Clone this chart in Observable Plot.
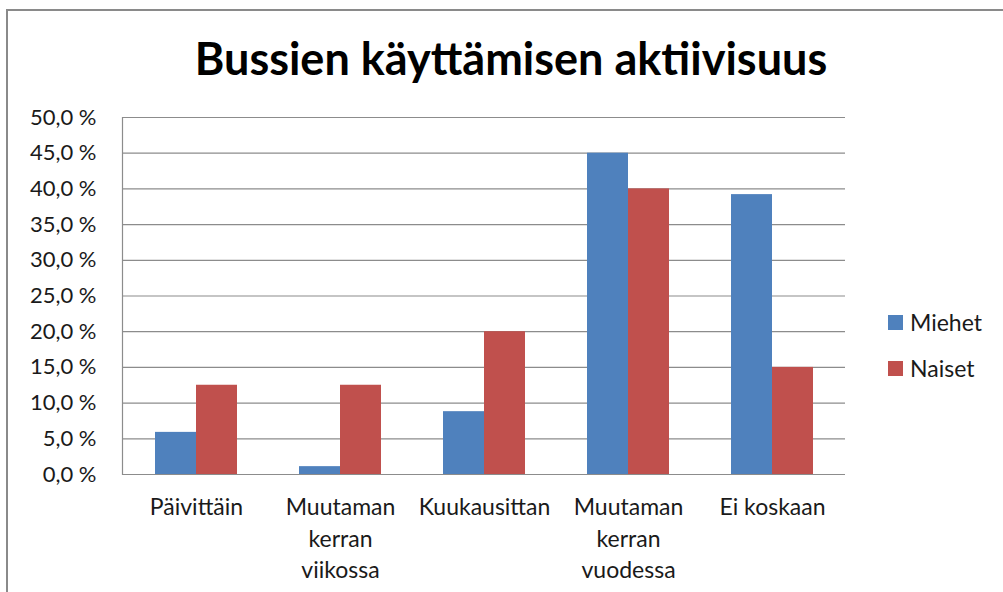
<!DOCTYPE html>
<html>
<head>
<meta charset="utf-8">
<script src="https://cdn.jsdelivr.net/npm/d3@7"></script>
<script src="https://cdn.jsdelivr.net/npm/@observablehq/plot@0.6"></script>
<style>
  html, body { margin: 0; padding: 0; background: #fff; }
  #wrap { position: relative; width: 1003px; height: 592px; overflow: hidden; font-family: Lato, "Open Sans", sans-serif; color: #1a1a1a; }
  #border { position: absolute; left: 6px; top: 9px; width: 1200px; height: 800px; border-top: 2px solid #8a8a8a; border-left: 2px solid #8a8a8a; }
  #chart { position: absolute; left: 0; top: 0; }
  #title { position: absolute; left: 0; width: 1022px; top: 36px; text-align: center; font-weight: bold; font-size: 45px; line-height: 45px; color: #000; white-space: nowrap; }
  .leg { position: absolute; left: 888px; display: flex; align-items: center; font-size: 23px; line-height: 23px; white-space: nowrap; }
  .sw { width: 15px; height: 15px; margin-right: 7px; }
</style>
</head>
<body>
<div id="wrap">
  <div id="border"></div>
  <div id="chart"></div>
  <div id="title"></div>
  <div id="legend"></div>
</div>
<script>
const chartTitle = "Bussien käyttämisen aktiivisuus";
const categories = ["Päivittäin", "Muutaman kerran viikossa", "Kuukausittain", "Muutaman kerran vuodessa", "Ei koskaan"];
const categoryLabels = ["Päivittäin", "Muutaman\nkerran\nviikossa", "Kuukausittan", "Muutaman\nkerran\nvuodessa", "Ei koskaan"];
const series = ["Miehet", "Naiset"];
const miehet = [5.9, 1.1, 8.8, 45.0, 39.2];
const naiset = [12.5, 12.5, 20.0, 40.0, 15.0];
const yTicks = [0, 5, 10, 15, 20, 25, 30, 35, 40, 45, 50];
const seriesColors = ["#4F81BD", "#C0504D"];

const seriesValues = [miehet, naiset];
const data = categories.flatMap((c, i) => series.map((s, j) => ({category: c, series: s, value: seriesValues[j][i]})));

const fmt = d => d.toFixed(1).replace(".", ",") + " %";

const chart = Plot.plot({
  width: 1003,
  height: 592,
  marginLeft: 122,
  marginRight: 158,
  marginTop: 117,
  marginBottom: 118,
  style: {fontFamily: "Lato, 'Open Sans', sans-serif", fontSize: "22px", color: "#1a1a1a", background: "transparent"},
  x: {domain: categories, paddingInner: 0.433, paddingOuter: 0.2165, axis: null},
  y: {domain: [0, 50], axis: null},
  color: {domain: series, range: seriesColors},
  marks: [
    Plot.gridY(yTicks, {stroke: "#8c8c8c", strokeOpacity: 1, strokeWidth: 1.2}),
    Plot.frame({anchor: "left", stroke: "#8c8c8c", strokeWidth: 1.2}),
    Plot.barY(data.filter(d => d.series === series[0]), {x: "category", y: "value", fill: "series", insetRight: 41, insetLeft: 0}),
    Plot.barY(data.filter(d => d.series === series[1]), {x: "category", y: "value", fill: "series", insetLeft: 41, insetRight: 0}),
    Plot.axisY({ticks: yTicks, tickSize: 0, tickPadding: 26, tickFormat: fmt, fontSize: 22, label: null}),
    Plot.text(categories, {x: d => d, text: (d, i) => categoryLabels[i], frameAnchor: "bottom", lineAnchor: "top", dy: 18.5, fontSize: 23, lineHeight: 1.37, fill: "#1a1a1a"})
  ]
});
document.getElementById("chart").appendChild(chart);
document.getElementById("title").textContent = chartTitle;

const legend = document.getElementById("legend");
series.forEach((s, i) => {
  const row = document.createElement("div");
  row.className = "leg";
  row.style.top = (311 + i * 46) + "px";
  const sw = document.createElement("div");
  sw.className = "sw";
  sw.style.background = seriesColors[i];
  const t = document.createElement("span");
  t.textContent = s;
  row.appendChild(sw);
  row.appendChild(t);
  legend.appendChild(row);
});
</script>
</body>
</html>
